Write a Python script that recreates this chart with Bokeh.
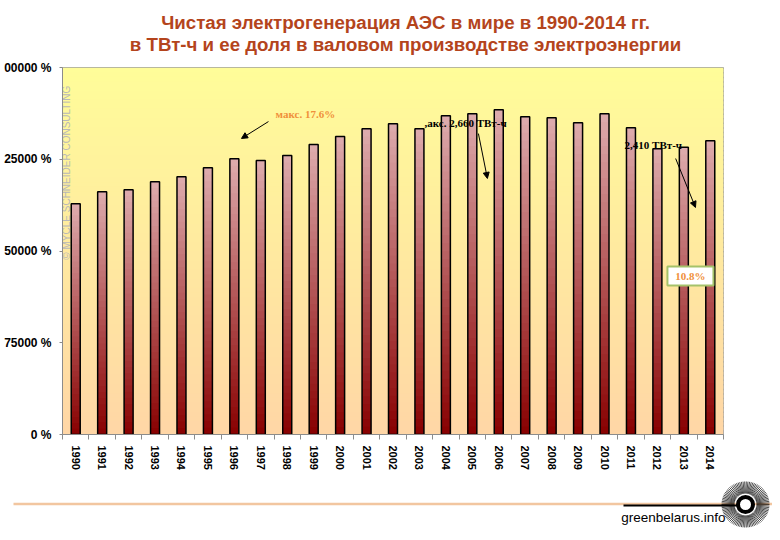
import numpy as np
from bokeh.plotting import figure
from bokeh.models import Range1d, FixedTicker, Arrow, NormalHead
from bokeh.core.properties import value
from bokeh.embed import file_html
from bokeh.resources import INLINE

# ---------------- data ----------------
years = list(range(1990, 2015))
generation = [188600, 198400, 200000, 206600, 210700, 218000, 225400, 224000,
              228100, 237000, 243600, 249900, 254000, 249900, 260500, 262100,
              265400, 259700, 258900, 254800, 262100, 250700, 233600, 234800,
              240100]
y_ticks = [0, 75000, 150000, 225000, 300000]
y_tick_labels = ["0 %", "75000 %", "50000 %", "25000 %", "00000 %"]
title_lines = ["Чистая электрогенерация АЭС в мире в 1990-2014 гг.",
               "в ТВт-ч и ее доля в валовом производстве электроэнергии"]
note_max_share = "макс. 17.6%"
note_max_gen = ",акс. 2,660 ТВт-ч"
note_last_gen = "2,410 ТВт-ч"
note_last_share = "10.8%"
watermark = "© MYCLE SCHNEIDER CONSULTING"
site = "greenbelarus.info"

W = 772
TITLE_C = "#B4441C"
SERIF = value("Liberation Serif")
SANS = value("Liberation Sans")


def hexc(c):
    return "#%02x%02x%02x" % tuple(int(round(v)) for v in c)


# ---------------- title figure ----------------
TH = 58
pt = figure(width=W, height=TH, x_range=Range1d(0, W), y_range=Range1d(TH, 0),
            x_axis_type=None, y_axis_type=None, toolbar_location=None,
            output_backend="svg", min_border=0, outline_line_color=None)
pt.grid.visible = False
pt.text(x=[405, 405], y=[22, 44], text=title_lines, text_align="center",
        text_baseline="middle", text_font=SANS, text_font_style="bold",
        text_font_size="18.7px", text_color=TITLE_C)

# ---------------- main figure ----------------
n = len(years)
p = figure(width=W, height=420, x_range=Range1d(-0.5, n - 0.5),
           y_range=Range1d(0, 300000), toolbar_location=None,
           output_backend="svg", min_border_left=62, min_border_right=49,
           min_border_top=9, min_border_bottom=44)
p.outline_line_color = "#A0A0A0"
p.background_fill_color = "white"
p.border_fill_color = "white"

# background gradient (yellow top -> peach bottom)
NB = 80
b_edges = np.linspace(0, 300000, NB + 1)
bt = (np.arange(NB) + 0.5) / NB
c_low = np.array([255, 214, 166])
c_high = np.array([255, 253, 153])
bg_cols = [hexc(c_low + (c_high - c_low) * t) for t in bt]
p.quad(left=-0.5, right=n - 0.5, bottom=b_edges[:-1],
       top=np.minimum(b_edges[1:] + 2500, 300000), fill_color=bg_cols,
       line_color=None)

# gridlines
p.xgrid.visible = False
p.ygrid.ticker = FixedTicker(ticks=y_ticks)
p.ygrid.grid_line_color = "#8C8C8C"
p.ygrid.grid_line_width = 1
p.ygrid.level = "underlay"

# watermark
p.text(x=[-0.36], y=[214000], text=[watermark], angle=np.pi / 2,
       text_align="center", text_baseline="middle", text_font=SANS,
       text_font_size="10px", text_color="#B8B8B8")

# gradient bars
NS = 40
vals = np.array(generation, dtype=float)
xs = np.arange(n)
fr = np.arange(NS) / NS
bottoms = (vals[:, None] * fr[None, :]).ravel()
tops = np.minimum(vals[:, None] * (fr[None, :] + 2.0 / NS), vals[:, None]).ravel()
xx = np.repeat(xs, NS)
tt = np.tile(fr + 0.5 / NS, n)
c_bot = np.array([136, 0, 0])
c_top = np.array([222, 172, 174])
bar_cols = [hexc(c_bot + (c_top - c_bot) * t) for t in tt]
BW = 0.34
p.vbar(x=xx, bottom=bottoms, top=tops, width=BW, fill_color=bar_cols,
       line_color=None)
p.vbar(x=xs, top=vals, width=BW, fill_color=None, line_color="black",
       line_width=1.5)

# annotations
ORANGE = "#F0903A"
p.text(x=[7.56], y=[261600], text=[note_max_share], text_baseline="middle",
       text_font=SERIF, text_font_style="bold", text_font_size="11px",
       text_color=ORANGE)
p.text(x=[13.19], y=[255000], text=[note_max_gen], text_baseline="middle",
       text_font=SERIF, text_font_style="bold", text_font_size="11px",
       text_color="black")
p.text(x=[20.76], y=[237000], text=[note_last_gen], text_baseline="middle",
       text_font=SERIF, text_font_style="bold", text_font_size="11px",
       text_color="black")
for (xs0, ys0, xe, ye) in [(7.29, 255800, 6.27, 242000),
                           (15.23, 246000, 15.57, 209300),
                           (22.69, 225600, 23.44, 185600)]:
    p.add_layout(Arrow(x_start=xs0, y_start=ys0, x_end=xe, y_end=ye,
                       line_color="black", line_width=1,
                       end=NormalHead(size=6, fill_color="black",
                                      line_color="black")))
p.quad(left=[22.38], right=[24.12], bottom=[121800], top=[137300],
       fill_color="white", line_color="#A5C26A", line_width=2)
p.text(x=[23.25], y=[129500], text=[note_last_share], text_align="center",
       text_baseline="middle", text_font=SERIF, text_font_style="bold",
       text_font_size="11px", text_color=ORANGE)

# axes
p.yaxis.ticker = FixedTicker(ticks=y_ticks)
p.yaxis.major_label_overrides = {t: l for t, l in zip(y_ticks, y_tick_labels)}
p.yaxis.major_label_text_font = "Liberation Sans"
p.yaxis.major_label_text_font_style = "bold"
p.yaxis.major_label_text_font_size = "12px"
p.yaxis.major_label_text_color = "black"
p.yaxis.major_label_standoff = 8
p.yaxis.major_tick_out = 3
p.yaxis.major_tick_in = 0
p.yaxis.minor_tick_line_color = None
p.yaxis.axis_line_color = "#8C8C8C"
p.yaxis.major_tick_line_color = "#8C8C8C"

p.xaxis.ticker = FixedTicker(ticks=list(range(n)),
                             minor_ticks=[i - 0.5 for i in range(n + 1)])
p.xaxis.major_label_overrides = {i: str(y) for i, y in enumerate(years)}
p.xaxis.major_label_orientation = "vertical"
p.xaxis.major_label_text_font = "Liberation Sans"
p.xaxis.major_label_text_font_style = "bold"
p.xaxis.major_label_text_font_size = "11px"
p.xaxis.major_label_text_color = "black"
p.xaxis.major_label_standoff = 6
p.xaxis.major_tick_out = 0
p.xaxis.major_tick_in = 0
p.xaxis.minor_tick_out = 5
p.xaxis.minor_tick_in = 0
p.xaxis.minor_tick_line_color = "#8C8C8C"
p.xaxis.axis_line_color = "#8C8C8C"

# ---------------- footer figure ----------------
FH = 54
pf = figure(width=W, height=FH, x_range=Range1d(0, W), y_range=Range1d(FH, 0),
            x_axis_type=None, y_axis_type=None, toolbar_location=None,
            output_backend="svg", min_border=0, outline_line_color=None)
pf.grid.visible = False
pf.segment(x0=[13], y0=[25.5], x1=[772], y1=[25.5], line_color="#F2C6A0",
           line_width=2.5)
pf.segment(x0=[623], y0=[27], x1=[745], y1=[27], line_color="black",
           line_width=2)
ang = np.linspace(0, 2 * np.pi, 90, endpoint=False)
cx, cy = 745, 26
pf.segment(x0=cx + 11 * np.cos(ang), y0=cy + 11 * np.sin(ang),
           x1=cx + 24 * np.cos(ang), y1=cy + 23 * np.sin(ang),
           line_color="black", line_width=0.7)
pf.scatter(x=[cx], y=[cy], size=15, marker="circle", fill_color="white",
           line_color="black", line_width=4)
pf.text(x=[725], y=[39], text=[site], text_align="right",
        text_baseline="middle", text_font=SANS,
        text_font_size="13.5px", text_color="black")

open("out.html", "w").write(file_html((pt, p, pf), INLINE))
